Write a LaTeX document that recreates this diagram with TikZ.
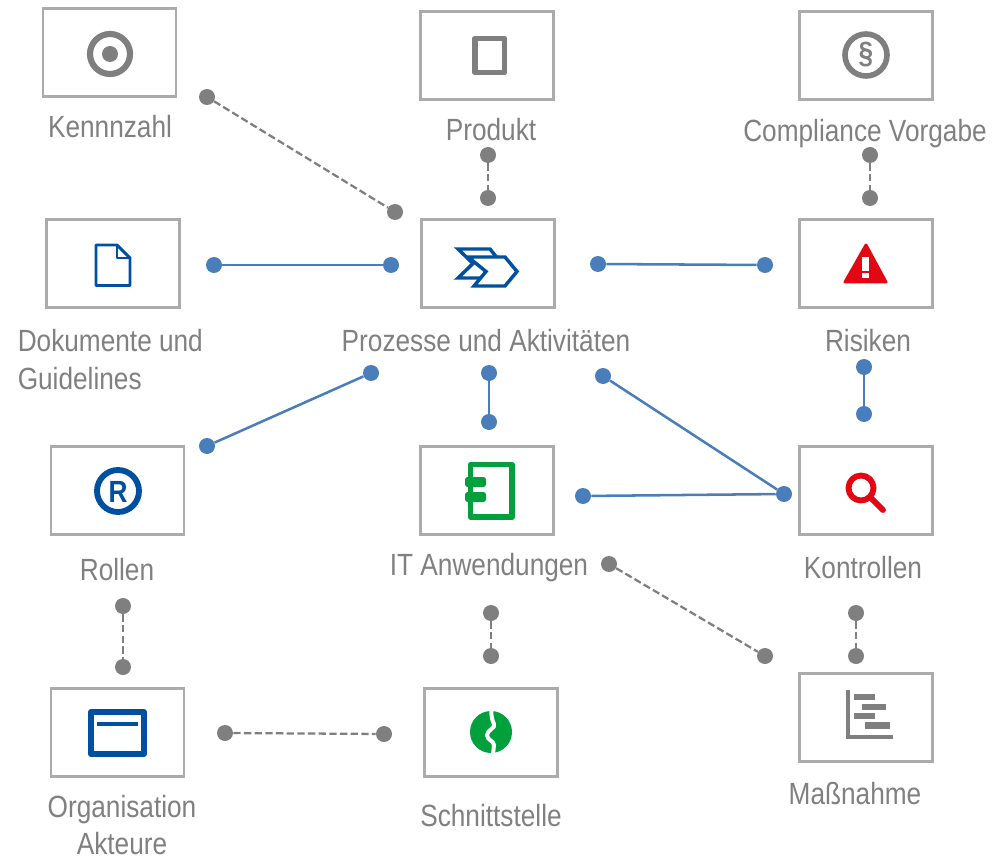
\documentclass[tikz,border=0pt]{standalone}
\usepackage{fontspec}
\setmainfont[FakeStretch=0.855]{Liberation Sans}
\definecolor{txtgray}{HTML}{808080}
\definecolor{boxgray}{HTML}{ABABAB}
\definecolor{dotgray}{HTML}{7F7F7F}
\definecolor{dotblue}{HTML}{4A7EBB}
\definecolor{iconblue}{HTML}{0050A0}
\definecolor{icongreen}{HTML}{00A03C}
\definecolor{iconred}{HTML}{E30613}
\tikzset{
  tile/.style={draw=boxgray,line width=1.9pt,fill=white,minimum width=99.5pt,minimum height=66pt,inner sep=0pt},
  lab/.style={text=txtgray,font=\fontsize{23}{29}\selectfont,inner sep=0pt,align=center},
  gdot/.style={circle,fill=dotgray,minimum size=12pt,inner sep=0pt},
  bdot/.style={circle,fill=dotblue,minimum size=12pt,inner sep=0pt},
  gline/.style={draw=dotgray,line width=1.7pt,dash pattern=on 5.5pt off 2.5pt},
  bline/.style={draw=dotblue,line width=1.9pt},
}
\begin{document}
\begin{tikzpicture}[x=0.75pt,y=-0.75pt]
\useasboundingbox (0,0) rectangle (992,859);
% tiles
\node[tile] (tK) at (109.5,52.5) {};
\node[tile] (tP) at (487,55.5) {};
\node[tile] (tC) at (866,55.5) {};
\node[tile] (tD) at (113,263.5) {};
\node[tile] (tA) at (488,263.5) {};
\node[tile] (tR) at (866,263.5) {};
\node[tile] (tO) at (117.5,490.5) {};
\node[tile] (tI) at (487,490.5) {};
\node[tile] (tS) at (866,490.5) {};
\node[tile] (tG) at (117.5,732.5) {};
\node[tile] (tN) at (491,732.5) {};
\node[tile] (tM) at (866,717.5) {};
% labels
\node[lab] (lK) at (110,127) {Kennnzahl};
\node[lab] (lP) at (491,130) {Produkt};
\node[lab] (lC) at (865,134) {Compliance Vorgabe};
\node[lab,anchor=west] (lD1) at (17.5,341) {Dokumente und};
\node[lab,anchor=west] (lD2) at (17.5,379) {Guidelines};
\node[lab] (lA) at (486,341) {Prozesse und Aktivitäten};
\node[lab] (lR) at (868,341) {Risiken};
\node[lab] (lO) at (117,570) {Rollen};
\node[lab] (lI) at (489,568) {IT Anwendungen};
\node[lab] (lS) at (863,568) {Kontrollen};
\node[lab] (lG1) at (122,810) {Organisation};
\node[lab] (lG2) at (122,844) {Akteure};
\node[lab] (lN) at (491,816) {Schnittstelle};
\node[lab] (lM) at (855,794) {Maßnahme};
% connector end dots
\node[gdot] (a1) at (207,97) {};   \node[gdot] (a2) at (395,212) {};
\node[gdot] (b1) at (488,155) {};  \node[gdot] (b2) at (488,198) {};
\node[gdot] (c1) at (870,155) {};  \node[gdot] (c2) at (870,198) {};
\node[bdot] (d1) at (214,265) {};  \node[bdot] (d2) at (391,265) {};
\node[bdot] (e1) at (598,264) {};  \node[bdot] (e2) at (765,265) {};
\node[bdot] (f1) at (371,373) {};  \node[bdot] (f2) at (207,446) {};
\node[bdot] (g1) at (489,373) {};  \node[bdot] (g2) at (489,422) {};
\node[bdot] (h1) at (864,367) {};  \node[bdot] (h2) at (864,414) {};
\node[bdot] (i1) at (603,376) {};  \node[bdot] (i2) at (784,494) {};
\node[bdot] (j1) at (583,496) {};
\node[gdot] (k1) at (123,606) {};  \node[gdot] (k2) at (123,667) {};
\node[gdot] (l1) at (491,613) {};  \node[gdot] (l2) at (491,656) {};
\node[gdot] (m1) at (856,613) {};  \node[gdot] (m2) at (856,656) {};
\node[gdot] (n1) at (609,564) {};  \node[gdot] (n2) at (765,656) {};
\node[gdot] (o1) at (225,733) {};  \node[gdot] (o2) at (384,734) {};
% connectors
\draw[gline] (a1) -- (a2);
\draw[gline] (b1) -- (b2);
\draw[gline] (c1) -- (c2);
\draw[bline] (d1) -- (d2);
\draw[bline] (e1) -- (e2);
\draw[bline] (f1) -- (f2);
\draw[bline] (g1) -- (g2);
\draw[bline] (h1) -- (h2);
\draw[bline] (i1) -- (i2);
\draw[bline] (j1) -- (i2);
\draw[gline] (k1) -- (k2);
\draw[gline] (l1) -- (l2);
\draw[gline] (m1) -- (m2);
\draw[gline] (n1) -- (n2);
\draw[gline] (o1) -- (o2);
% icon: target
\draw[dotgray,line width=4.6pt] (110,54) circle[radius=20];
\fill[dotgray] (110,54) circle[radius=8];
% icon: product
\draw[dotgray,line width=4.4pt,line join=round] (475,38.5) rectangle (504.5,72.5);
% icon: paragraph
\draw[dotgray,line width=4.2pt] (866,55) circle[radius=21];
\node[text=dotgray,font=\bfseries\fontsize{23}{23}\selectfont,inner sep=0pt] (par) at (866,55) {§};
% icon: document
\draw[iconblue,line width=2.2pt,line join=round] (96,245) -- (117,245) -- (130,258) -- (130,285.5) -- (96,285.5) -- cycle;
\draw[iconblue,line width=2.2pt,line join=round] (117,245) -- (117,258) -- (130,258);
% icon: chevrons
\draw[iconblue,line width=2.6pt,miter limit=10,fill=white] (458,249) -- (490,249) -- (502,264) -- (490,278) -- (458,278) -- (473,263.5) -- cycle;
\draw[iconblue,line width=2.6pt,miter limit=10,fill=white] (468,257) -- (505,257) -- (517,271.5) -- (505,286) -- (474,286) -- (486,271.5) -- cycle;
% icon: warning
\fill[iconred,draw=iconred,line width=2.2pt,line join=round] (866,245) -- (886,282) -- (845,282) -- cycle;
\fill[white] (862,257) rectangle (868.5,271);
\fill[white] (862,273) rectangle (868.5,278.5);
% icon: R
\draw[iconblue,line width=4.4pt] (118,491) circle[radius=21];
\node[text=iconblue,font=\bfseries\fontsize{23}{23}\selectfont,inner sep=0pt] (rsym) at (118,492) {R};
% icon: notebook
\draw[icongreen,line width=4pt,line join=round] (470.5,464.5) rectangle (512,517);
\fill[icongreen,rounded corners=2pt] (465,477) rectangle (486,487);
\fill[icongreen,rounded corners=2pt] (465,492) rectangle (486,502);
% icon: magnifier
\draw[iconred,line width=4.4pt] (861,488) circle[radius=12.5];
\draw[iconred,line width=4.4pt,line cap=round] (870,497) -- (883,510);
% icon: window
\draw[iconblue,line width=4.2pt,line join=round] (91,712) rectangle (144,754);
\draw[iconblue,line width=3pt] (97,724) -- (138,724);
% icon: interface
\fill[icongreen] (491,732) circle[radius=21];
\draw[white,line width=3pt] (491.5,709) .. controls (491,716) and (492,720) .. (494,724) .. controls (496,728) and (487,730) .. (487,735) .. controls (487,740) and (494,741) .. (494,745) -- (493,755);
% icon: gantt
\draw[dotgray,line width=2.4pt] (848,690) -- (848,737) -- (893,737);
\fill[dotgray] (854,694) rectangle (875,700);
\fill[dotgray] (862,704) rectangle (886,710);
\fill[dotgray] (854,713) rectangle (875,719);
\fill[dotgray] (865,722) rectangle (890,729);
\end{tikzpicture}
\end{document}
